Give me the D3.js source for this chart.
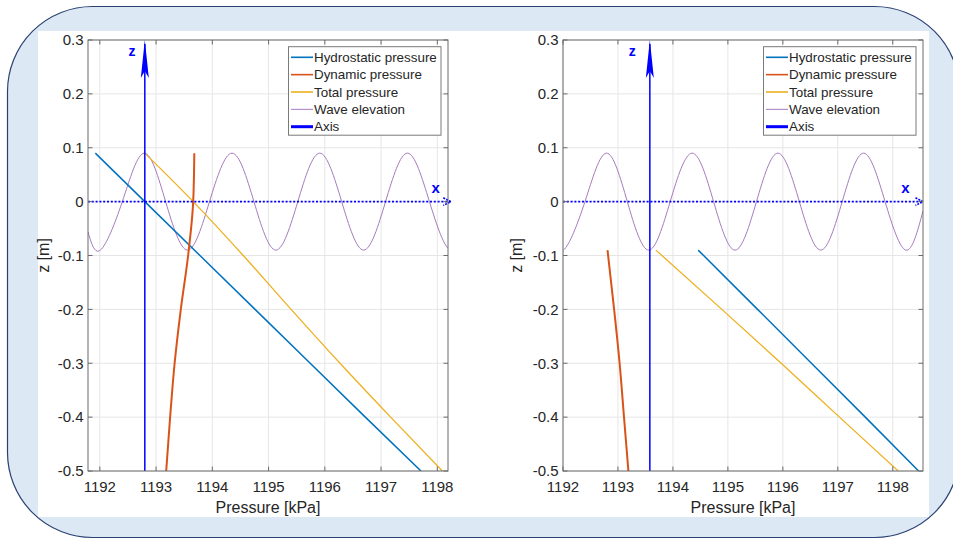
<!DOCTYPE html>
<html>
<head>
<meta charset="utf-8">
<script src="https://cdn.jsdelivr.net/npm/d3@7"></script>
<style>
  html, body { margin: 0; padding: 0; background: #fff; }
  svg text { font-family: "Liberation Sans", Arial, Helvetica, sans-serif; fill: #262626; }
</style>
</head>
<body>
<svg id="chart" width="953" height="539"></svg>
<script>
// --- data ---
const zTicks = [-0.5, -0.4, -0.3, -0.2, -0.1, 0, 0.1, 0.2, 0.3];
const pTicks = [1192, 1193, 1194, 1195, 1196, 1197, 1198];
const legendLabels = ["Hydrostatic pressure", "Dynamic pressure", "Total pressure", "Wave elevation", "Axis"];

// wave elevation (same in both panels), peaks / zero crossings / troughs
const waveP = [1191.79, 1192.01, 1192.40, 1192.79, 1193.17, 1193.56, 1193.95, 1194.35, 1194.74,
               1195.13, 1195.52, 1195.91, 1196.30, 1196.69, 1197.08, 1197.47, 1197.86, 1198.24, 1198.55];
const waveZ = [-0.056, -0.09, 0, 0.09, 0, -0.09, 0, 0.09, 0, -0.09, 0, 0.09, 0, -0.09, 0, 0.09, 0, -0.09, -0.017];

// left panel
const leftZ = [0.09, 0, -0.1, -0.2, -0.3, -0.4, -0.5];
const leftHydro = [1191.92, 1192.80, 1193.78, 1194.76, 1195.74, 1196.72, 1197.71];
const leftDynamic = [1193.68, 1193.66, 1193.57, 1193.44, 1193.33, 1193.25, 1193.18];
const leftTotal = [1192.80, 1193.66, 1194.55, 1195.40, 1196.27, 1197.17, 1198.09];

// right panel
const rightZ = [-0.09, -0.2, -0.3, -0.4, -0.5];
const rightHydro = [1194.46, 1195.54, 1196.52, 1197.50, 1198.47];
const rightDynamic = [1192.81, 1192.93, 1193.03, 1193.11, 1193.19];
const rightTotal = [1193.69, 1194.89, 1195.97, 1197.03, 1198.10];

const colors = ["#0072BD", "#D95319", "#EDB120", "#A77BBD", "#0000FF"];

const svg = d3.select("#chart");

// frame
svg.append("rect")
  .attr("x", 7.5).attr("y", 6.5).attr("width", 952).attr("height", 531)
  .attr("rx", 85).attr("ry", 85)
  .attr("fill", "#dde8f5").attr("stroke", "#2a4272").attr("stroke-width", 1.2);
svg.append("rect")
  .attr("x", 38).attr("y", 31).attr("width", 891).attr("height", 486)
  .attr("fill", "#fff");

const panels = [
  {
    id: "L", x0: 88, x1: 448, pDomain: [1191.79, 1198.19],
    z: leftZ, hydro: leftHydro, dynamic: leftDynamic, total: leftTotal,
    axisP: 1192.8, arrowP: 1198.24, zLab: [1192.57, 0.28], xLab: [1197.97, 0.025],
    ylabX: 43
  },
  {
    id: "R", x0: 563, x1: 923, pDomain: [1192, 1198.55],
    z: rightZ, hydro: rightHydro, dynamic: rightDynamic, total: rightTotal,
    axisP: 1193.58, arrowP: 1198.55, zLab: [1193.26, 0.28], xLab: [1198.23, 0.025],
    ylabX: 516
  }
];

const axTop = 40, axBottom = 471;

panels.forEach(pn => {
  const x = d3.scaleLinear().domain(pn.pDomain).range([pn.x0, pn.x1]);
  const y = d3.scaleLinear().domain([-0.5, 0.3]).range([axBottom, axTop]);
  const g = svg.append("g");

  // grid
  g.selectAll(".gx").data(pTicks).join("line")
    .attr("x1", d => x(d)).attr("x2", d => x(d)).attr("y1", axTop).attr("y2", axBottom)
    .attr("stroke", "#e6e6e6").attr("stroke-width", 1);
  g.selectAll(".gy").data(zTicks).join("line")
    .attr("x1", pn.x0).attr("x2", pn.x1).attr("y1", d => y(d)).attr("y2", d => y(d))
    .attr("stroke", "#e6e6e6").attr("stroke-width", 1);

  // clip
  svg.append("clipPath").attr("id", "clip" + pn.id)
    .append("rect").attr("x", pn.x0).attr("y", axTop)
    .attr("width", pn.x1 - pn.x0).attr("height", axBottom - axTop);
  const data = g.append("g").attr("clip-path", `url(#clip${pn.id})`);

  const straight = d3.line().x(d => x(d[0])).y(d => y(d[1]));
  const wavy = d3.line().x(d => x(d[0])).y(d => y(d[1])).curve(d3.curveNatural);
  const curved = d3.line().x(d => x(d[0])).y(d => y(d[1])).curve(d3.curveMonotoneY);

  // wave
  data.append("path")
    .datum(waveP.map((p, i) => [p, waveZ[i]]))
    .attr("d", wavy)
    .attr("fill", "none").attr("stroke", colors[3]).attr("stroke-width", 1);

  data.append("path").datum(pn.hydro.map((p, i) => [p, pn.z[i]]))
    .attr("d", straight).attr("fill", "none").attr("stroke", colors[0]).attr("stroke-width", 1.5);
  data.append("path").datum(pn.total.map((p, i) => [p, pn.z[i]]))
    .attr("d", curved).attr("fill", "none").attr("stroke", colors[2]).attr("stroke-width", 1.3);
  data.append("path").datum(pn.dynamic.map((p, i) => [p, pn.z[i]]))
    .attr("d", curved).attr("fill", "none").attr("stroke", colors[1]).attr("stroke-width", 2);

  // coordinate axes drawn in data space
  const ax = x(pn.axisP);
  g.append("line").attr("x1", ax).attr("x2", ax).attr("y1", y(-0.5)).attr("y2", y(0.3) + 4)
    .attr("stroke", colors[4]).attr("stroke-width", 1.5);
  g.append("path")
    .attr("d", `M${ax},${y(0.3)} L${ax - 4},${y(0.3) + 38} L${ax},${y(0.3) + 31} L${ax + 4},${y(0.3) + 38} Z`)
    .attr("fill", colors[4]);

  const tip = x(pn.arrowP);
  g.append("line").attr("x1", pn.x0).attr("x2", tip).attr("y1", y(0)).attr("y2", y(0))
    .attr("stroke", colors[4]).attr("stroke-width", 1.6).attr("stroke-dasharray", "2,1.8");
  g.append("path")
    .attr("d", `M${tip - 7.5},${y(0) - 3.8} L${tip},${y(0)} L${tip - 7.5},${y(0) + 3.8}`)
    .attr("fill", "none").attr("stroke", colors[4]).attr("stroke-width", 1.6)
    .attr("stroke-dasharray", "2,1.2");

  g.append("text").attr("x", x(pn.zLab[0])).attr("y", y(pn.zLab[1]))
    .attr("text-anchor", "middle").attr("dy", "0.35em")
    .style("fill", colors[4]).style("font-size", "14px").style("font-weight", "bold").text("z");
  g.append("text").attr("x", x(pn.xLab[0])).attr("y", y(pn.xLab[1]))
    .attr("text-anchor", "middle").attr("dy", "0.35em")
    .style("fill", colors[4]).style("font-size", "15px").style("font-weight", "bold").text("x");

  // box
  g.append("rect").attr("x", pn.x0).attr("y", axTop)
    .attr("width", pn.x1 - pn.x0).attr("height", axBottom - axTop)
    .attr("fill", "none").attr("stroke", "#6b6b6b").attr("stroke-width", 1);

  // ticks (inside, all four sides)
  const tl = 4.5;
  pTicks.forEach(t => {
    g.append("line").attr("x1", x(t)).attr("x2", x(t)).attr("y1", axBottom).attr("y2", axBottom - tl).attr("stroke", "#6b6b6b");
    g.append("line").attr("x1", x(t)).attr("x2", x(t)).attr("y1", axTop).attr("y2", axTop + tl).attr("stroke", "#6b6b6b");
  });
  zTicks.forEach(t => {
    g.append("line").attr("x1", pn.x0).attr("x2", pn.x0 + tl).attr("y1", y(t)).attr("y2", y(t)).attr("stroke", "#6b6b6b");
    g.append("line").attr("x1", pn.x1).attr("x2", pn.x1 - tl).attr("y1", y(t)).attr("y2", y(t)).attr("stroke", "#6b6b6b");
  });

  // tick labels
  g.selectAll(".xl").data(pTicks).join("text")
    .attr("x", d => x(d)).attr("y", 487).attr("dy", "0.35em")
    .attr("text-anchor", "middle").style("font-size", "15px").text(d => d);
  g.selectAll(".yl").data(zTicks).join("text")
    .attr("x", pn.x0 - 4.5).attr("y", d => y(d)).attr("dy", "0.35em")
    .attr("text-anchor", "end").style("font-size", "15px")
    .text(d => d === 0 ? "0" : d.toFixed(1));

  // axis titles
  g.append("text").attr("x", (pn.x0 + pn.x1) / 2).attr("y", 507).attr("dy", "0.35em")
    .attr("text-anchor", "middle").style("font-size", "16px").text("Pressure [kPa]");
  g.append("text").attr("transform", `translate(${pn.ylabX},${(axTop + axBottom) / 2}) rotate(-90)`)
    .attr("dy", "0.35em").attr("text-anchor", "middle").style("font-size", "16px").text("z [m]");

  // legend
  const lw = 152.5, lh = 88.5;
  const lx = pn.x1 - 7 - lw, ly = axTop + 6.7;
  const lg = g.append("g");
  lg.append("rect").attr("x", lx).attr("y", ly).attr("width", lw).attr("height", lh)
    .attr("fill", "#fff").attr("stroke", "#7a7a7a").attr("stroke-width", 1);
  legendLabels.forEach((lab, i) => {
    const ry = ly + 10.6 + i * 17.35;
    lg.append("line").attr("x1", lx + 2.5).attr("x2", lx + 24.5).attr("y1", ry).attr("y2", ry)
      .attr("stroke", colors[i]).attr("stroke-width", i === 4 ? 3 : (i === 3 ? 1 : 1.6));
    lg.append("text").attr("x", lx + 25.5).attr("y", ry).attr("dy", "0.35em")
      .style("font-size", "13.4px").text(lab);
  });
});
</script>
</body>
</html>
